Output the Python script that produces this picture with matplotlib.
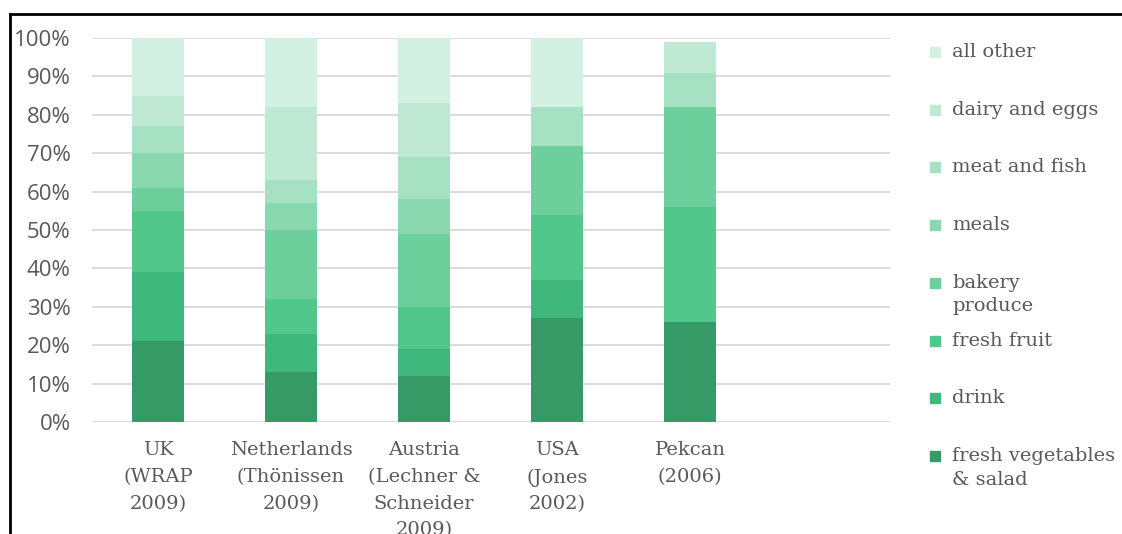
import numpy as np
import matplotlib.pyplot as plt
from matplotlib.lines import Line2D
from matplotlib.patches import Rectangle

# studies (last slot is left empty)
studies = ['UK\n(WRAP\n2009)', 'Netherlands\n(Thönissen\n2009)', 'Austria\n(Lechner &\nSchneider\n2009)',
           'USA\n(Jones\n2002)', 'Pekcan\n(2006)', '']

# shares in %, bottom to top
veg = [21, 13, 12, 27, 26, 0]
drink = [18, 10, 7, 10, 0, 0]
fruit = [16, 9, 11, 17, 30, 0]
bakery = [6, 18, 19, 18, 26, 0]
meals = [9, 7, 9, 0, 0, 0]
meat = [7, 6, 11, 10, 9, 0]
dairy = [8, 19, 14, 0, 8, 0]
other = [15, 18, 17, 18, 0, 0]

names = ['fresh vegetables\n& salad', 'drink', 'fresh fruit', 'bakery\nproduce',
         'meals', 'meat and fish', 'dairy and eggs', 'all other']
series = [veg, drink, fruit, bakery, meals, meat, dairy, other]
colors = ['#359a65', '#40b77c', '#52c78b', '#6ccf9c', '#8ad8b0', '#a6e1c3', '#bfe9d3', '#d2f1e3']

txt = '#595959'
fig = plt.figure(figsize=(11.22, 5.34), dpi=100)
ax = fig.add_axes([0.0816, 0.2097, 0.7112, 0.7191])

x = np.arange(len(studies))
bottom = np.zeros(len(studies))
for vals, c in zip(series, colors):
    ax.bar(x, vals, 0.39, bottom=bottom, color=c, zorder=3)
    bottom += np.array(vals)

ax.set_xlim(-0.5, len(studies) - 0.5)
ax.set_ylim(0, 100)
ax.set_yticks(np.arange(0, 101, 10))
ax.set_yticklabels([f'{v}%' for v in range(0, 101, 10)], fontsize=16,
                   color=txt, family='Open Sans')
ax.set_xticks(x)
ax.set_xticklabels(studies, fontsize=14, color=txt, family='DejaVu Serif',
                   linespacing=1.62, va='top')
ax.tick_params(length=0)
ax.tick_params(axis='y', pad=15)
ax.tick_params(axis='x', pad=14)
ax.grid(axis='y', color='#d9d9d9', lw=1.3, zorder=0)
for s in ax.spines.values():
    s.set_visible(False)

# legend, top entry first
lx, ly, step = 935 / 1122, 1 - 52 / 534, 57.7 / 534
for i, (n, c) in enumerate(zip(names[::-1], colors[::-1])):
    yy = ly - i * step
    fig.patches.append(Rectangle((lx - 5 / 1122, yy - 5 / 534), 10 / 1122, 10 / 534,
                                 transform=fig.transFigure, color=c))
    fig.text(lx + 17 / 1122, yy + 9 / 534, n, fontsize=14, color=txt,
             family='DejaVu Serif', va='top', ha='left', linespacing=1.4)

# frame edges
fig.add_artist(Line2D([10 / 1122, 10 / 1122], [0, 1 - 14 / 534], color='black', lw=2,
                      transform=fig.transFigure))
fig.add_artist(Line2D([10 / 1122, 1], [1 - 14 / 534, 1 - 14 / 534], color='black', lw=2,
                      transform=fig.transFigure))

fig.savefig('out.png', dpi=100)
